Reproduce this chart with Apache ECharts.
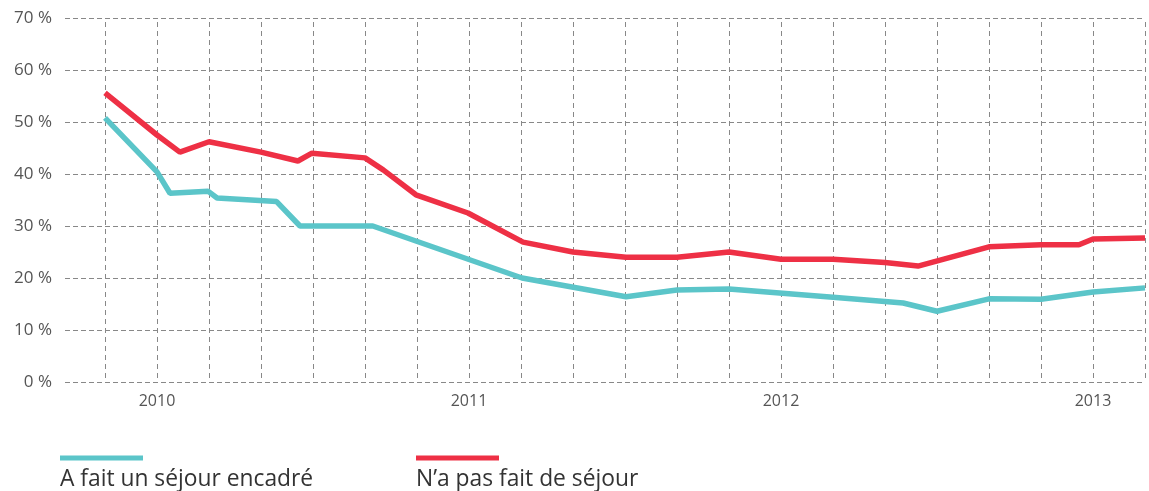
<!DOCTYPE html>
<html>
<head>
<meta charset="utf-8">
<title>Séjour encadré</title>
<script src="https://cdn.jsdelivr.net/npm/echarts@6/dist/echarts.min.js"></script>
<style>
  html, body { margin: 0; padding: 0; background: #fff; }
  #chart { width: 1149px; height: 491px; }
</style>
</head>
<body>
<div id="chart"></div>
<script>
// mois depuis novembre 2009 (une ligne verticale tous les 2 mois)
const encadreMonths = [0, 2, 2.5, 3.96, 4.31, 6.6, 7.5, 10.3, 16.04, 20.04, 22, 24, 28, 30.7, 32, 34, 36, 38, 40]
const encadreValues = [50.8, 40.4, 36.3, 36.7, 35.4, 34.7, 30.0, 30.0, 20.0, 16.4, 17.7, 17.9, 16.3, 15.2, 13.6, 16.0, 15.9, 17.3, 18.1]

const sansMonths = [0, 2, 2.88, 4, 6, 7.42, 7.96, 10, 10.7, 11.96, 13.96, 16.08, 18, 20.04, 22, 24, 26, 28, 30, 31.27, 34, 36, 37.46, 38, 40]
const sansValues = [55.6, 47.5, 44.2, 46.2, 44.2, 42.5, 44.0, 43.1, 40.8, 36.0, 32.5, 26.9, 25.0, 24.0, 24.0, 25.0, 23.6, 23.6, 23.0, 22.3, 26.0, 26.4, 26.4, 27.5, 27.7]

const yearTicks = [2, 14, 26, 38]
const yearLabels = ['2010', '2011', '2012', '2013']

const nameEncadre = 'A fait un séjour encadré'
const nameSans = 'N’a pas fait de séjour'
const cyan = '#5bc5c9'
const red = '#ee3045'

const chart = echarts.init(document.getElementById('chart'))

const legendBase = {
  top: 452,
  padding: 0,
  itemWidth: 0,
  itemHeight: 0,
  itemGap: 0,
  selectedMode: false,
  icon: 'rect',
  textStyle: {
    rich: {
      c: { width: 83, height: 5, backgroundColor: cyan },
      r: { width: 83, height: 5, backgroundColor: red },
      t: { fontFamily: 'Open Sans', fontSize: 22.8, color: '#333', lineHeight: 38 }
    }
  },
  formatter: (name) => (name === nameEncadre ? '{c|}' : '{r|}') + '\n{t|' + name + '}'
}

chart.setOption({
  animation: false,
  // 0 : lignes horizontales, 1 : lignes verticales + années, 2 : courbes
  grid: [
    { left: 65, right: 4, top: 18, bottom: 109 },
    { left: 105, right: 4, top: 22, bottom: 109 },
    { left: 105, right: 4, top: 18, bottom: 109 }
  ],
  legend: [
    Object.assign({}, legendBase, { left: 55, data: [nameEncadre] }),
    Object.assign({}, legendBase, { left: 411, data: [nameSans] })
  ],
  xAxis: [
    { gridIndex: 0, type: 'value', min: 0, max: 1, show: false },
    {
      gridIndex: 1,
      type: 'value',
      min: 0,
      max: 40,
      interval: 2,
      axisLine: { show: false },
      axisTick: { show: false },
      axisLabel: {
        margin: 11,
        color: '#555',
        fontFamily: 'Open Sans',
        fontSize: 16,
        formatter: (v) => {
          const i = yearTicks.indexOf(v)
          return i >= 0 ? yearLabels[i] : ''
        }
      },
      splitLine: {
        show: true,
        lineStyle: { color: '#888', width: 1, type: [5, 4] }
      }
    },
    { gridIndex: 2, type: 'value', min: 0, max: 40, show: false }
  ],
  yAxis: [
    {
      gridIndex: 0,
      type: 'value',
      min: 0,
      max: 70,
      interval: 10,
      axisLine: { show: false },
      axisTick: { show: false },
      axisLabel: {
        margin: 13,
        color: '#555',
        fontFamily: 'Open Sans',
        fontSize: 17,
        formatter: '{value} %'
      },
      splitLine: {
        show: true,
        lineStyle: { color: '#888', width: 1, type: [5, 3] }
      }
    },
    { gridIndex: 1, type: 'value', min: 0, max: 1, show: false },
    { gridIndex: 2, type: 'value', min: 0, max: 70, show: false }
  ],
  series: [
    {
      name: nameEncadre,
      type: 'line',
      xAxisIndex: 2,
      yAxisIndex: 2,
      showSymbol: false,
      color: cyan,
      lineStyle: { color: cyan, width: 5.5 },
      data: encadreMonths.map((m, i) => [m, encadreValues[i]])
    },
    {
      name: nameSans,
      type: 'line',
      xAxisIndex: 2,
      yAxisIndex: 2,
      showSymbol: false,
      color: red,
      lineStyle: { color: red, width: 5.5 },
      data: sansMonths.map((m, i) => [m, sansValues[i]])
    }
  ]
})
</script>
</body>
</html>
